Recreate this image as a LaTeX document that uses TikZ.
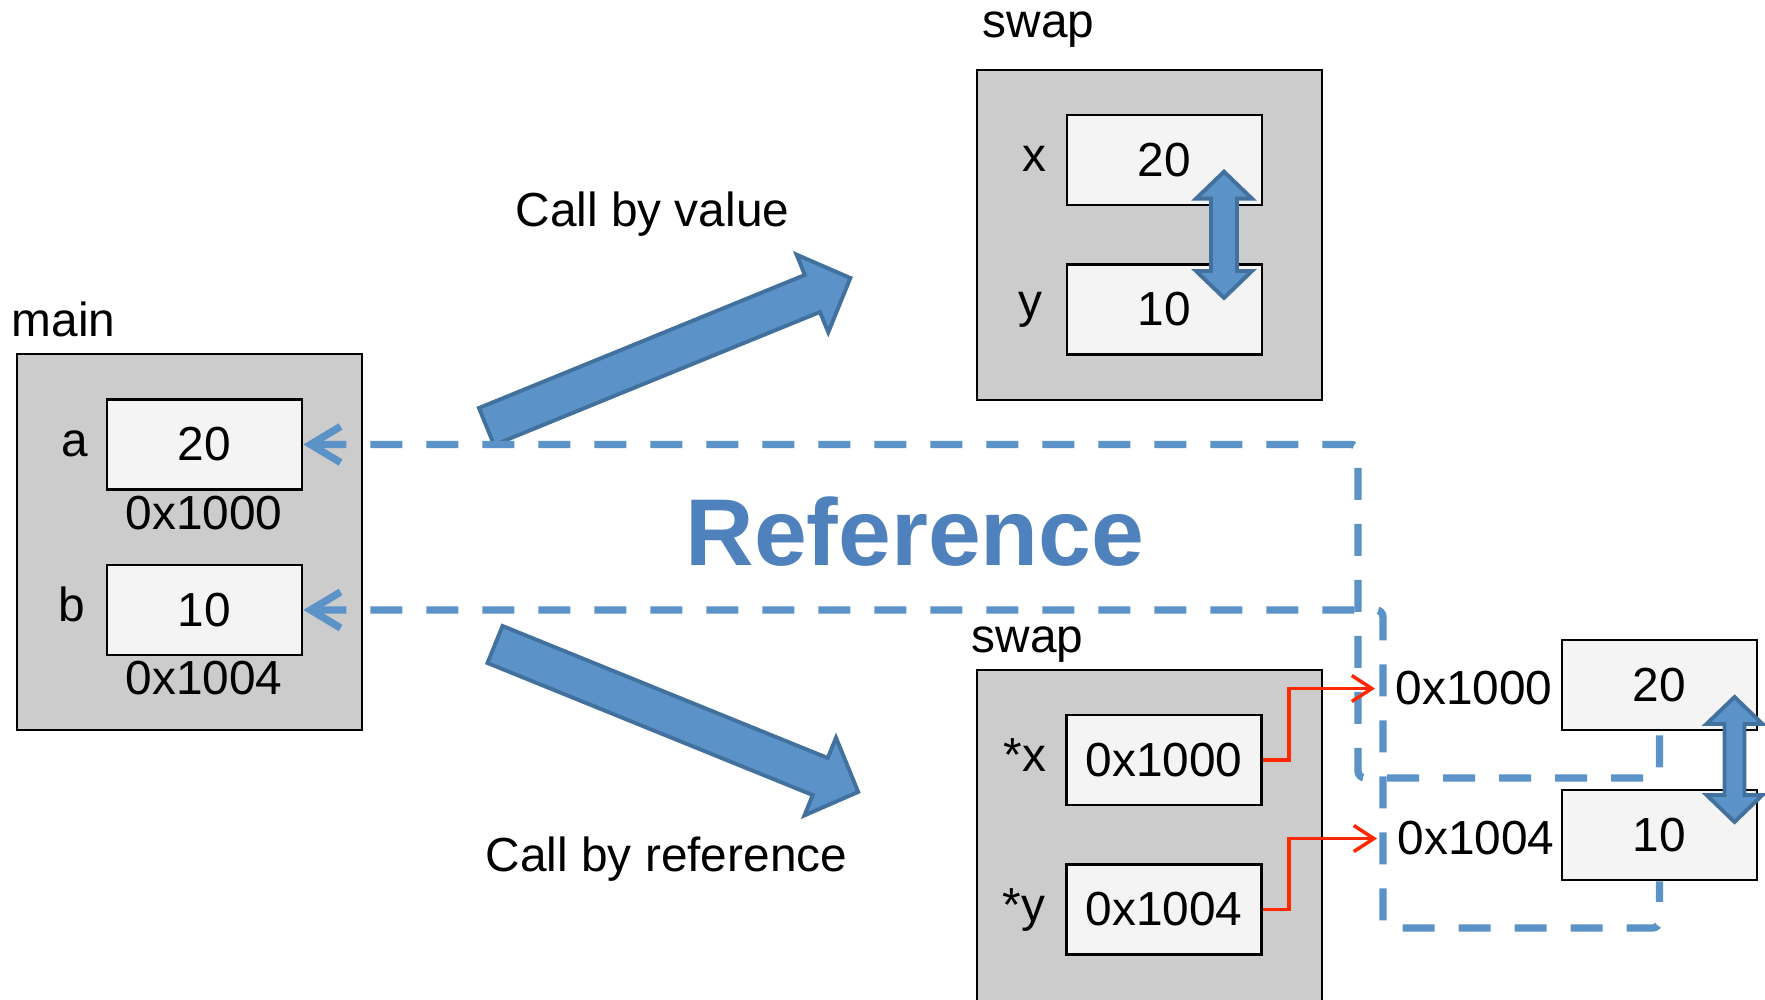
\documentclass[tikz,border=0pt]{standalone}
\usepackage{fontspec}
\setmainfont{Liberation Sans}
\usetikzlibrary{arrows.meta,calc}
\definecolor{refblue}{RGB}{91,146,199}
\definecolor{edgeblue}{RGB}{66,113,158}
\definecolor{titleblue}{RGB}{79,129,189}
\definecolor{framegray}{RGB}{204,204,204}
\definecolor{cellgray}{RGB}{244,244,244}
\definecolor{ptrred}{RGB}{255,40,0}
\def\fatarrow(#1)(#2:#3){\begin{scope}[shift={(#1)},rotate=#2]
	\draw[fat] (0,-0.2) -- ({#3-0.41},-0.2) -- ({#3-0.41},-0.42) -- (#3,0) -- ({#3-0.41},0.42) -- ({#3-0.41},0.2) -- (0,0.2) -- cycle;
	\end{scope}}
\def\swaparrow(#1,#2:#3:#4){\draw[fat] (#1,#2) -- ({#1+0.28},{#2-0.27}) -- ({#1+#4},{#2-0.27}) -- ({#1+#4},{#3+0.27}) -- ({#1+0.28},{#3+0.27}) -- (#1,#3) -- ({#1-0.28},{#3+0.27}) -- ({#1-#4},{#3+0.27}) -- ({#1-#4},{#2-0.27}) -- ({#1-0.28},{#2-0.27}) -- cycle;}
\tikzset{
	every node/.style={font=\fontsize{13.6}{16.3}\selectfont},
	frame/.style={draw, fill=framegray, line width=0.8pt, inner sep=0pt},
	cell/.style={draw, fill=cellgray, line width=0.8pt, minimum width=1.95cm, minimum height=0.9cm, inner sep=0pt},
	title/.style={anchor=base west, inner sep=0pt},
	varname/.style={anchor=base, inner sep=0pt},
	fat/.style={fill=refblue, draw=edgeblue, line width=1.1pt, line join=miter},
	link/.style={draw=refblue, line width=2.1pt, dash pattern=on 0.32cm off 0.24cm, rounded corners=2pt, {Straight Barb[length=0.3cm,width=0.36cm]}-},
	ptr/.style={draw=ptrred, line width=1pt, -{Straight Barb[length=0.2cm,width=0.26cm]}}
}
\begin{document}
\begin{tikzpicture}
		%%%%% START %%%%%
		\useasboundingbox (0,0) rectangle (17.65,10);
		\clip (0,0) rectangle (17.65,10);
		
		% main
		\node[title] (tmain) at (0.11, 6.63) {main};
		\node[frame, minimum width=3.45cm, minimum height=3.76cm] (mainfr) at (1.895, 4.58) {};
		\node[cell] (a) at (2.045, 5.555) {20};
		\node[cell] (b) at (2.045, 3.90) {10};
		\node[varname] (la) at (0.75, 5.43) {a};
		\node[varname] (lb) at (0.715, 3.78) {b};
		\node[varname] (adra) at (2.04, 4.70) {0x1000};
		\node[varname] (adrb) at (2.04, 3.05) {0x1004};
		
		% swap, by value
		\node[title] (tval) at (9.82, 9.623) {swap};
		\node[frame, minimum width=3.45cm, minimum height=3.30cm] (valfr) at (11.495, 7.65) {};
		\node[cell] (x) at (11.645, 8.40) {20};
		\node[cell] (y) at (11.645, 6.905) {10};
		\node[varname] (lx) at (10.345, 8.28) {x};
		\node[varname] (ly) at (10.30, 6.82) {y};
		\swaparrow(12.24,8.283:7.02:0.13)
		
		% swap, by reference
		\node[title] (tref) at (9.71, 3.47) {swap};
		\node[frame, minimum width=3.45cm, minimum height=3.50cm] (reffr) at (11.495, 1.55) {};
		\node[cell] (px) at (11.64, 2.40) {0x1000};
		\node[cell] (py) at (11.64, 0.905) {0x1004};
		\node[varname] (lpx) at (10.25, 2.28) {*x};
		\node[varname] (lpy) at (10.24, 0.78) {*y};
		
		% memory
		\node[cell] (m20) at (16.595, 3.15) {20};
		\node[cell] (m10) at (16.595, 1.65) {10};
		\node[anchor=base west, inner xsep=0.2cm] (mem1000) at (13.75, 2.95) {0x1000};
		\node[anchor=base west, inner xsep=0.2cm] (mem1004) at (13.77, 1.45) {0x1004};
		\swaparrow(17.345,3.03:1.78:0.10)
		
		% calls
		\fatarrow(4.865,5.735)(22.2:3.93)
		\fatarrow(4.95,3.555)(-22.1:3.92)
		\node[anchor=base] (cbv) at (6.525, 7.73) {Call by value};
		\node[anchor=base] (cbr) at (6.665, 1.28) {Call by reference};
		\node[anchor=base, text=titleblue, font=\fontsize{27}{32}\selectfont\bfseries] (refword) at (9.15, 4.34) {Reference};
		
		\draw[link] (a.east) -| (13.58, 2.22) -| (m20.south);
		\draw[link] (b.east) -| (13.83, 0.72) -| (m10.south);
		
		\draw[ptr] (px.east) -- ++(0.26,0) |- (mem1000.west);
		\draw[ptr] (py.east) -- ++(0.26,0) |- (mem1004.west);
		
		%%%%% END %%%%%
	\end{tikzpicture}
\end{document}
